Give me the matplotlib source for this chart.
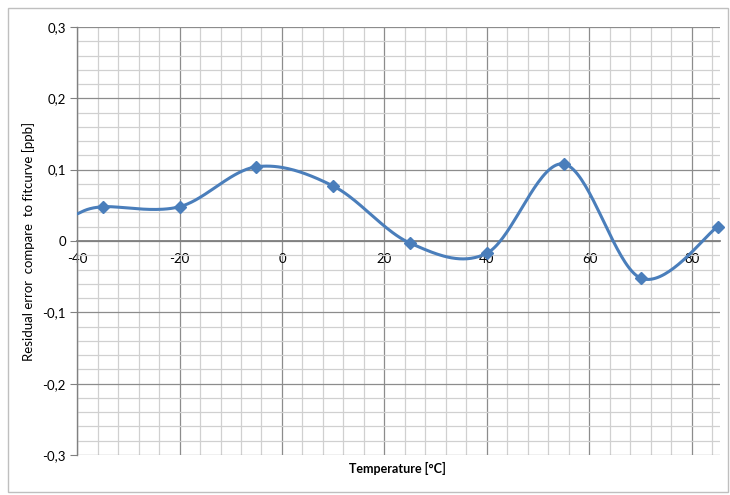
import numpy as np
import matplotlib.pyplot as plt
from matplotlib.ticker import MultipleLocator, FuncFormatter
from matplotlib.patches import Rectangle

# measured residuals
temp = [-35, -20, -5, 10, 25, 40, 55, 70, 85]
resid = [0.048, 0.048, 0.104, 0.077, -0.003, -0.017, 0.108, -0.052, 0.020]
# curve continues to the left edge of the plot area
curve_start = (-40, 0.038)

xticks = [-40, -20, 0, 20, 40, 60, 80]
yticks = [-0.3, -0.2, -0.1, 0, 0.1, 0.2, 0.3]

plt.rcParams['font.family'] = ['Lato', 'DejaVu Sans']
plt.rcParams['axes.unicode_minus'] = False


def excel_smooth(xs, ys, n=40):
    # Bezier segments with Catmull-Rom style control points (like Excel "smoothed line")
    xs = np.asarray(xs, float)
    ys = np.asarray(ys, float)
    px, py = [], []
    for i in range(len(xs) - 1):
        x0, y0 = xs[max(i - 1, 0)], ys[max(i - 1, 0)]
        x1, y1 = xs[i], ys[i]
        x2, y2 = xs[i + 1], ys[i + 1]
        x3, y3 = xs[min(i + 2, len(xs) - 1)], ys[min(i + 2, len(xs) - 1)]
        c1x, c1y = x1 + (x2 - x0) / 6, y1 + (y2 - y0) / 6
        c2x, c2y = x2 - (x3 - x1) / 6, y2 - (y3 - y1) / 6
        t = np.linspace(0, 1, n)
        bx = (1 - t) ** 3 * x1 + 3 * (1 - t) ** 2 * t * c1x + 3 * (1 - t) * t ** 2 * c2x + t ** 3 * x2
        by = (1 - t) ** 3 * y1 + 3 * (1 - t) ** 2 * t * c1y + 3 * (1 - t) * t ** 2 * c2y + t ** 3 * y2
        px.extend(bx)
        py.extend(by)
    return np.array(px), np.array(py)


fig = plt.figure(figsize=(7.3, 4.95), dpi=100)
fig.patches.append(Rectangle((0.011, 0.006), 0.986, 0.978, transform=fig.transFigure,
                             fill=False, edgecolor='#bfbfbf', lw=1))
ax = fig.add_axes([0.1055, 0.0808, 0.881, 0.8647])

cx, cy = excel_smooth([curve_start[0]] + temp, [curve_start[1]] + resid)
ax.plot(cx, cy, color='#4a7ebb', lw=2.2, zorder=3, solid_capstyle='round')
ax.plot(temp, resid, 'D', color='#4a7ebb', ms=6.5, zorder=4, clip_on=False)

ax.set_xlim(-40, 85.5)
ax.set_ylim(-0.3, 0.3)
ax.set_xticks(xticks)
ax.set_yticks(yticks)
ax.xaxis.set_minor_locator(MultipleLocator(4))
ax.yaxis.set_minor_locator(MultipleLocator(0.02))
ax.yaxis.set_major_formatter(FuncFormatter(lambda v, p: ('%g' % round(v, 2)).replace('.', ',')))

ax.grid(which='major', color='#8c8c8c', lw=0.9)
ax.grid(which='minor', color='#d0d0d0', lw=0.9)
ax.set_axisbelow(True)

for s in ['top', 'right']:
    ax.spines[s].set_visible(False)
ax.spines['bottom'].set_position(('data', 0))
ax.spines['bottom'].set_color('#808080')
ax.spines['bottom'].set_linewidth(1.3)
ax.spines['left'].set_color('#808080')
ax.spines['left'].set_linewidth(1.0)

ax.tick_params(axis='both', which='minor', length=0)
ax.tick_params(axis='x', which='major', length=0, pad=9, labelsize=9.5, colors='#000000')
ax.tick_params(axis='y', which='major', length=5, color='#808080', labelsize=9.5, pad=3)

ax.set_ylabel('Residual error  compare  to fitcurve [ppb]', fontsize=9.5)
ax.yaxis.set_label_coords(-0.066, 0.5)
fig.text(0.545, 0.053, 'Temperature [°C]', ha='center', va='center', fontsize=9, fontweight='bold')

fig.savefig('out.png', dpi=100, facecolor='white')
